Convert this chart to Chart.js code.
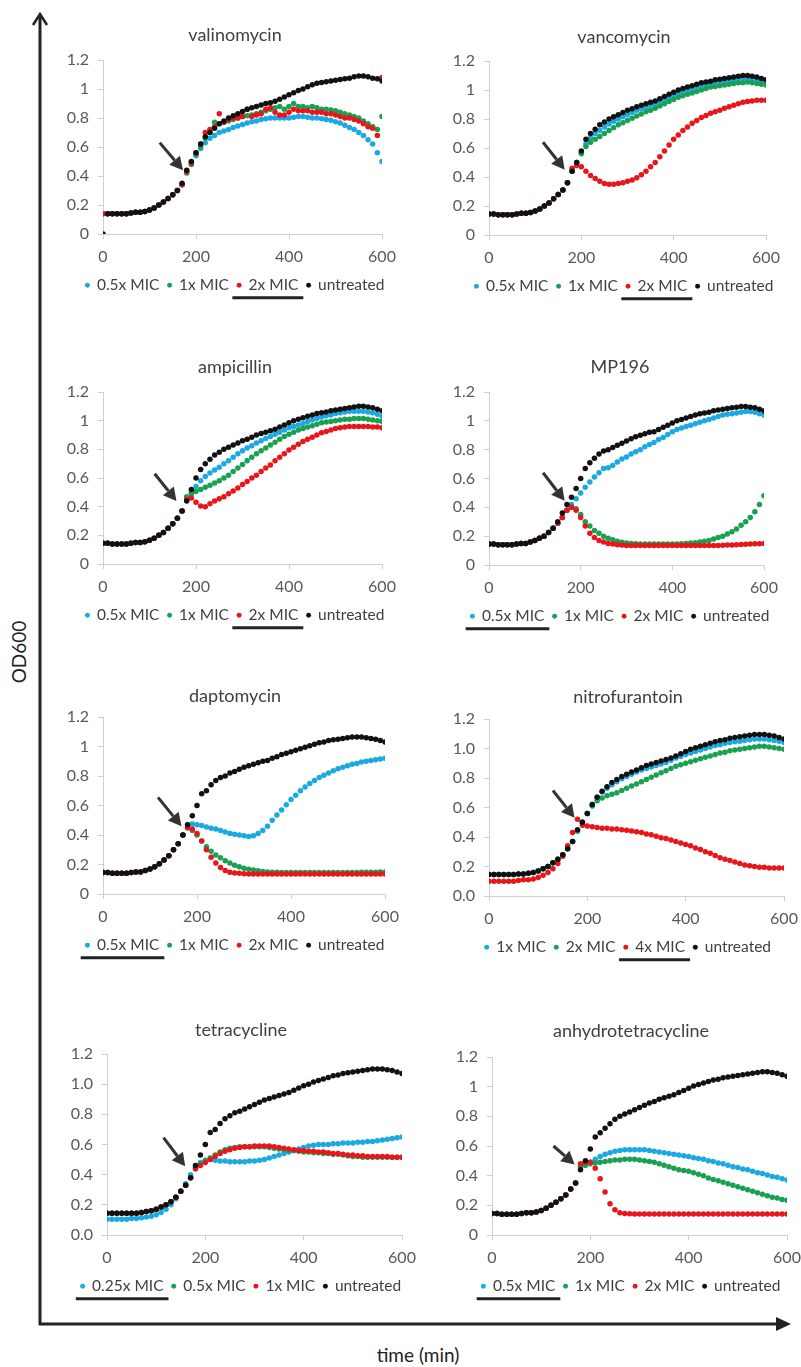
<!DOCTYPE html>
<html>
<head>
<meta charset="utf-8">
<script src="https://cdn.jsdelivr.net/npm/chart.js@4.4.1/dist/chart.umd.min.js"></script>
<style>
html, body { margin: 0; padding: 0; background: #fff; overflow: hidden; }
#page { position: relative; width: 801px; height: 1367px; overflow: hidden; }
#page canvas { position: absolute; }
.axlabel { position: absolute; font-family: Lato, "Open Sans", sans-serif; color: #222; font-size: 19px; white-space: nowrap; }
</style>
</head>
<body>
<div id="page">
  <svg width="801" height="1367" style="position:absolute;left:0;top:0">
    <line x1="40" y1="1325" x2="40" y2="15" stroke="#222" stroke-width="3"/>
    <polyline points="33,25 40,14 47,25" fill="none" stroke="#222" stroke-width="2.5"/>
    <line x1="39" y1="1324" x2="778" y2="1324" stroke="#222" stroke-width="3"/>
    <polygon points="776,1317 791,1324 776,1331" fill="#222"/>
  </svg>
  <div class="axlabel" id="ylab" style="left:18px;top:652px;transform:translate(-50%,-50%) rotate(-90deg)">OD600</div>
  <div class="axlabel" id="xlab" style="left:418px;top:1354px;transform:translate(-50%,-50%)">time (min)</div>
</div>
<script>
// sampling times (min)
const times = [0,10,20,30,40,50,60,70,80,90,100,110,120,130,140,150,160,170,
  180,190,200,210,220,230,240,250,260,270,280,290,300,310,320,330,340,350,360,370,
  380,390,400,410,420,430,440,450,460,470,480,490,500,510,520,530,540,550,560,570,
  580,590,600];

const yLabelsGeneral = ['0', '0.2', '0.4', '0.6', '0.8', '1', '1.2'];
const yLabelsFixed = ['0.0', '0.2', '0.4', '0.6', '0.8', '1.0', '1.2'];
const xLabels = ['0', '200', '400', '600'];

const micLabels = ['0.5x MIC', '1x MIC', '2x MIC', 'untreated'];
const nitroLabels = ['1x MIC', '2x MIC', '4x MIC', 'untreated'];
const tetraLabels = ['0.25x MIC', '0.5x MIC', '1x MIC', 'untreated'];

// ---- valinomycin
const valinoPre = [0.14,0.14,0.14,0.14,0.14,0.14,0.145,0.15,0.15,0.155,0.165,0.18,0.2,0.22,0.245,0.27,0.3,0.34];
const valinoPreUntreated = [0,0.14,0.14,0.14,0.14,0.14,0.145,0.15,0.15,0.155,0.165,0.18,0.2,0.22,0.245,0.27,0.3,0.35];
const valinoBlue = valinoPre.concat([0.43,0.49,0.54,0.59,0.63,0.66,0.68,0.70,0.71,0.72,
  0.735,0.745,0.755,0.765,0.775,0.78,0.79,0.795,0.80,0.80,
  0.80,0.80,0.80,0.805,0.81,0.81,0.805,0.80,0.80,0.795,
  0.79,0.785,0.775,0.765,0.75,0.735,0.72,0.70,0.68,0.65,
  0.62,0.56,0.50]);
const valinoGreen = valinoPre.concat([0.42,0.48,0.55,0.60,0.66,0.70,0.77,0.76,0.77,0.78,
  0.79,0.80,0.81,0.815,0.82,0.83,0.84,0.85,0.86,0.87,
  0.88,0.86,0.88,0.90,0.88,0.88,0.87,0.88,0.87,0.86,
  0.86,0.855,0.85,0.84,0.83,0.82,0.81,0.80,0.78,0.76,
  0.74,0.72,0.81]);
const valinoRed = valinoPre.concat([0.43,0.49,0.56,0.62,0.70,0.72,0.74,0.83,0.77,0.79,
  0.80,0.80,0.81,0.86,0.81,0.82,0.83,0.86,0.87,0.84,
  0.82,0.82,0.84,0.86,0.85,0.85,0.85,0.84,0.84,0.84,
  0.83,0.83,0.82,0.81,0.80,0.80,0.79,0.78,0.76,0.74,
  0.73,0.68,1.08]);
const valinoBlack = valinoPreUntreated.concat([0.44,0.50,0.56,0.62,0.67,0.70,0.73,0.76,0.78,0.80,
  0.815,0.83,0.845,0.86,0.87,0.88,0.89,0.90,0.905,0.915,
  0.93,0.945,0.96,0.975,0.99,1.0,1.015,1.03,1.04,1.045,
  1.05,1.055,1.06,1.065,1.07,1.075,1.085,1.09,1.09,1.085,
  1.075,1.07,1.055]);

// ---- vancomycin
const vancoPre = [0.145,0.145,0.14,0.14,0.14,0.14,0.145,0.15,0.15,0.155,0.165,0.18,0.2,0.22,0.25,0.28,0.31,0.36];
const vancoBlue = vancoPre.concat([0.44,0.50,0.57,0.63,0.67,0.70,0.72,0.745,0.765,0.785,
  0.80,0.815,0.83,0.845,0.86,0.87,0.88,0.895,0.905,0.92,
  0.935,0.95,0.965,0.98,0.99,1.0,1.01,1.02,1.03,1.04,
  1.045,1.05,1.055,1.06,1.065,1.07,1.075,1.08,1.08,1.075,
  1.07,1.06,1.05]);
const vancoGreen = vancoPre.concat([0.44,0.50,0.56,0.61,0.64,0.66,0.68,0.70,0.72,0.74,
  0.76,0.775,0.79,0.805,0.82,0.835,0.85,0.86,0.875,0.89,
  0.905,0.92,0.935,0.95,0.96,0.97,0.98,0.99,1.0,1.01,
  1.02,1.025,1.03,1.035,1.04,1.045,1.05,1.05,1.055,1.05,
  1.045,1.04,1.035]);
const vancoRed = vancoPre.concat([0.46,0.48,0.47,0.44,0.41,0.39,0.37,0.355,0.35,0.35,
  0.355,0.36,0.37,0.38,0.395,0.415,0.44,0.47,0.50,0.54,
  0.58,0.62,0.66,0.69,0.72,0.745,0.77,0.79,0.81,0.825,
  0.84,0.85,0.86,0.875,0.885,0.895,0.905,0.915,0.92,0.925,
  0.93,0.93,0.93]);
const vancoBlack = vancoPre.concat([0.44,0.50,0.58,0.66,0.70,0.73,0.76,0.78,0.80,0.815,
  0.83,0.845,0.86,0.87,0.885,0.895,0.905,0.915,0.925,0.94,
  0.955,0.97,0.985,1.0,1.01,1.02,1.03,1.04,1.05,1.055,
  1.06,1.07,1.075,1.08,1.085,1.09,1.095,1.1,1.1,1.095,
  1.09,1.08,1.07]);

// ---- ampicillin
const ampiPre = [0.145,0.145,0.14,0.14,0.14,0.14,0.145,0.15,0.15,0.155,0.165,0.18,0.2,0.22,0.25,0.28,0.32,0.37];
const ampiBlue = ampiPre.concat([0.46,0.50,0.54,0.58,0.61,0.635,0.655,0.675,0.70,0.72,
  0.745,0.77,0.79,0.81,0.825,0.845,0.86,0.875,0.89,0.905,
  0.92,0.935,0.95,0.96,0.97,0.98,0.995,1.005,1.015,1.025,
  1.035,1.04,1.05,1.055,1.06,1.065,1.065,1.065,1.065,1.06,
  1.055,1.045,1.03]);
const ampiGreen = ampiPre.concat([0.47,0.49,0.505,0.52,0.535,0.55,0.565,0.58,0.60,0.62,
  0.645,0.67,0.695,0.72,0.745,0.77,0.79,0.81,0.83,0.85,
  0.87,0.89,0.905,0.92,0.935,0.945,0.955,0.965,0.975,0.985,
  0.99,0.995,1.0,1.005,1.01,1.01,1.015,1.015,1.015,1.01,
  1.005,1.0,0.995]);
const ampiRed = ampiPre.concat([0.45,0.46,0.43,0.405,0.40,0.42,0.44,0.455,0.47,0.49,
  0.51,0.53,0.555,0.575,0.60,0.62,0.645,0.67,0.69,0.72,
  0.745,0.77,0.795,0.815,0.835,0.855,0.87,0.885,0.90,0.915,
  0.925,0.935,0.945,0.95,0.955,0.96,0.96,0.96,0.96,0.96,
  0.955,0.955,0.95]);
const ampiBlack = ampiPre.concat([0.44,0.52,0.60,0.66,0.70,0.73,0.76,0.78,0.80,0.815,
  0.83,0.845,0.86,0.87,0.885,0.90,0.91,0.92,0.93,0.94,
  0.955,0.97,0.985,1.0,1.01,1.02,1.03,1.04,1.05,1.055,
  1.06,1.07,1.075,1.08,1.085,1.09,1.095,1.1,1.1,1.095,
  1.09,1.08,1.07]);

// ---- MP196
const mpPre = [0.145,0.145,0.14,0.14,0.14,0.14,0.145,0.15,0.15,0.16,0.17,0.185,0.2,0.225,0.255,0.29,0.33,0.38];
const mpPreUntreated = [0.145,0.145,0.14,0.14,0.14,0.14,0.145,0.15,0.15,0.16,0.17,0.185,0.2,0.225,0.255,0.30,0.36,0.42];
const mpBlue = mpPre.concat([0.42,0.46,0.50,0.54,0.575,0.61,0.64,0.67,0.675,0.69,
  0.715,0.735,0.75,0.77,0.785,0.80,0.82,0.835,0.85,0.87,
  0.885,0.905,0.925,0.94,0.95,0.96,0.97,0.98,0.99,1.0,
  1.01,1.02,1.03,1.04,1.045,1.05,1.055,1.06,1.065,1.065,
  1.06,1.05,1.04]);
const mpGreen = mpPre.concat([0.40,0.39,0.35,0.30,0.27,0.24,0.22,0.20,0.185,0.175,
  0.165,0.158,0.152,0.15,0.148,0.146,0.145,0.145,0.145,0.145,
  0.145,0.145,0.145,0.145,0.147,0.15,0.152,0.155,0.16,0.165,
  0.17,0.18,0.19,0.20,0.215,0.23,0.25,0.275,0.30,0.33,
  0.37,0.42,0.48]);
const mpRed = mpPre.concat([0.40,0.38,0.33,0.27,0.22,0.19,0.17,0.16,0.15,0.145,
  0.14,0.138,0.136,0.135,0.135,0.135,0.135,0.135,0.135,0.135,
  0.135,0.135,0.135,0.135,0.135,0.135,0.135,0.135,0.135,0.135,
  0.135,0.135,0.136,0.137,0.138,0.139,0.14,0.142,0.144,0.145,
  0.147,0.148,0.15]);
const mpBlack = mpPreUntreated.concat([0.47,0.53,0.60,0.67,0.71,0.74,0.77,0.79,0.80,0.815,
  0.83,0.845,0.86,0.875,0.89,0.90,0.91,0.92,0.925,0.94,
  0.955,0.97,0.985,1.0,1.01,1.02,1.03,1.04,1.05,1.055,
  1.06,1.07,1.075,1.08,1.085,1.09,1.095,1.1,1.1,1.095,
  1.09,1.08,1.07]);

// ---- daptomycin
const daptoPre = [0.145,0.145,0.14,0.14,0.14,0.14,0.145,0.15,0.15,0.16,0.17,0.185,0.205,0.23,0.26,0.3,0.34,0.4];
const daptoBlue = daptoPre.concat([0.47,0.475,0.47,0.465,0.455,0.445,0.44,0.43,0.42,0.41,
  0.405,0.40,0.395,0.39,0.395,0.41,0.43,0.46,0.50,0.535,
  0.57,0.605,0.64,0.67,0.70,0.725,0.75,0.77,0.79,0.805,
  0.82,0.835,0.85,0.86,0.87,0.88,0.885,0.895,0.90,0.905,
  0.91,0.915,0.92]);
const daptoGreen = daptoPre.concat([0.45,0.43,0.40,0.36,0.32,0.29,0.265,0.245,0.225,0.21,
  0.195,0.185,0.175,0.168,0.162,0.157,0.153,0.15,0.148,0.147,
  0.146,0.145,0.145,0.145,0.145,0.145,0.145,0.145,0.145,0.145,
  0.145,0.145,0.145,0.145,0.145,0.146,0.146,0.147,0.147,0.148,
  0.148,0.149,0.15]);
const daptoRed = daptoPre.concat([0.45,0.44,0.41,0.36,0.30,0.25,0.21,0.18,0.16,0.148,
  0.142,0.14,0.137,0.135,0.135,0.135,0.135,0.135,0.135,0.135,
  0.135,0.135,0.135,0.135,0.135,0.135,0.135,0.135,0.135,0.135,
  0.135,0.135,0.135,0.135,0.135,0.135,0.135,0.135,0.135,0.135,
  0.135,0.135,0.135]);
const daptoBlack = daptoPre.concat([0.47,0.53,0.60,0.68,0.70,0.74,0.77,0.79,0.80,0.82,
  0.83,0.845,0.86,0.87,0.88,0.89,0.90,0.905,0.92,0.93,
  0.945,0.955,0.965,0.975,0.985,0.995,1.005,1.015,1.025,1.03,
  1.04,1.045,1.05,1.055,1.06,1.065,1.065,1.065,1.06,1.055,
  1.05,1.04,1.03]);

// ---- nitrofurantoin
const nitroPre = [0.145,0.145,0.145,0.145,0.145,0.145,0.15,0.15,0.155,0.16,0.17,0.185,0.2,0.225,0.25,0.28,0.32,0.37];
const nitroPreRed = [0.1,0.1,0.1,0.1,0.1,0.1,0.105,0.11,0.11,0.115,0.125,0.14,0.16,0.185,0.22,0.27,0.34,0.43];
const nitroBlue = nitroPre.concat([0.44,0.50,0.56,0.62,0.67,0.705,0.73,0.755,0.775,0.795,
  0.81,0.825,0.84,0.855,0.865,0.875,0.885,0.895,0.905,0.92,
  0.935,0.945,0.96,0.97,0.98,0.99,1.0,1.01,1.02,1.025,
  1.035,1.04,1.045,1.05,1.055,1.06,1.065,1.065,1.065,1.06,
  1.055,1.05,1.04]);
const nitroGreen = nitroPre.concat([0.44,0.50,0.56,0.61,0.645,0.665,0.68,0.69,0.70,0.715,
  0.73,0.745,0.76,0.775,0.79,0.805,0.82,0.835,0.85,0.865,
  0.88,0.89,0.90,0.91,0.92,0.93,0.94,0.95,0.96,0.97,
  0.975,0.985,0.99,0.995,1.0,1.005,1.01,1.015,1.015,1.01,
  1.005,1.0,0.995]);
const nitroRed = nitroPreRed.concat([0.52,0.48,0.475,0.47,0.465,0.46,0.46,0.455,0.455,0.45,
  0.445,0.44,0.435,0.43,0.42,0.415,0.405,0.395,0.39,0.38,
  0.37,0.36,0.35,0.34,0.325,0.315,0.30,0.29,0.275,0.26,
  0.25,0.24,0.23,0.22,0.21,0.205,0.20,0.195,0.195,0.19,
  0.19,0.19,0.19]);
const nitroBlack = nitroPre.concat([0.45,0.50,0.56,0.62,0.67,0.71,0.74,0.77,0.79,0.81,
  0.825,0.84,0.855,0.87,0.885,0.895,0.905,0.915,0.925,0.935,
  0.95,0.965,0.98,0.995,1.005,1.015,1.025,1.035,1.045,1.055,
  1.06,1.07,1.075,1.08,1.085,1.09,1.095,1.095,1.095,1.09,
  1.085,1.075,1.065]);

// ---- tetracycline
const tetraPre = [0.145,0.145,0.145,0.145,0.145,0.145,0.145,0.15,0.155,0.16,0.17,0.185,0.2,0.22,0.25,0.29,0.33,0.38];
const tetraPreBlue = [0.105,0.105,0.105,0.105,0.105,0.11,0.11,0.115,0.12,0.125,0.135,0.15,0.17,0.2,0.24,0.29,0.34,0.4];
const tetraBlue = tetraPreBlue.concat([0.44,0.48,0.495,0.50,0.495,0.49,0.49,0.485,0.485,0.485,
  0.485,0.49,0.49,0.495,0.50,0.51,0.52,0.53,0.54,0.55,
  0.56,0.57,0.58,0.59,0.595,0.60,0.60,0.60,0.605,0.605,
  0.61,0.61,0.61,0.615,0.615,0.62,0.62,0.625,0.63,0.635,
  0.64,0.645,0.65]);
const tetraGreen = tetraPre.concat([0.45,0.47,0.49,0.51,0.53,0.55,0.565,0.575,0.58,0.585,
  0.585,0.585,0.585,0.585,0.585,0.58,0.575,0.57,0.565,0.56,
  0.56,0.555,0.55,0.55,0.545,0.545,0.54,0.54,0.535,0.535,
  0.53,0.525,0.52,0.52,0.515,0.515,0.515,0.515,0.515,0.515,
  0.515,0.515,0.515]);
const tetraRed = tetraPre.concat([0.44,0.46,0.48,0.50,0.52,0.54,0.555,0.565,0.575,0.58,
  0.585,0.585,0.59,0.59,0.59,0.59,0.585,0.58,0.575,0.57,
  0.565,0.56,0.56,0.555,0.555,0.55,0.55,0.545,0.54,0.54,
  0.535,0.53,0.53,0.525,0.525,0.52,0.52,0.52,0.52,0.52,
  0.515,0.515,0.515]);
const tetraBlack = tetraPre.concat([0.46,0.53,0.60,0.68,0.70,0.74,0.77,0.79,0.81,0.82,
  0.835,0.85,0.865,0.88,0.895,0.905,0.915,0.925,0.935,0.945,
  0.96,0.975,0.99,1.0,1.015,1.025,1.035,1.045,1.055,1.06,
  1.07,1.075,1.08,1.085,1.09,1.095,1.1,1.1,1.1,1.095,
  1.09,1.08,1.07]);

// ---- anhydrotetracycline
const ahtPre = [0.145,0.145,0.14,0.14,0.14,0.14,0.145,0.15,0.15,0.155,0.165,0.18,0.2,0.22,0.245,0.27,0.31,0.35];
const ahtBlue = ahtPre.concat([0.46,0.47,0.49,0.51,0.53,0.545,0.555,0.565,0.57,0.575,
  0.575,0.575,0.575,0.575,0.57,0.565,0.56,0.555,0.55,0.545,
  0.54,0.535,0.53,0.52,0.515,0.51,0.50,0.495,0.485,0.48,
  0.47,0.46,0.455,0.445,0.44,0.43,0.42,0.415,0.405,0.395,
  0.39,0.38,0.37]);
const ahtGreen = ahtPre.concat([0.46,0.47,0.48,0.485,0.49,0.495,0.50,0.505,0.505,0.51,
  0.51,0.51,0.505,0.50,0.495,0.49,0.48,0.47,0.46,0.45,
  0.44,0.435,0.43,0.42,0.41,0.40,0.385,0.375,0.365,0.355,
  0.345,0.335,0.325,0.315,0.305,0.295,0.285,0.275,0.265,0.255,
  0.25,0.24,0.235]);
const ahtRed = ahtPre.concat([0.48,0.49,0.49,0.45,0.38,0.29,0.21,0.17,0.15,0.145,
  0.143,0.142,0.142,0.142,0.142,0.142,0.142,0.142,0.142,0.142,
  0.142,0.142,0.142,0.142,0.142,0.142,0.142,0.142,0.142,0.142,
  0.142,0.142,0.142,0.142,0.142,0.142,0.142,0.142,0.142,0.142,
  0.142,0.142,0.142]);
const ahtBlack = ahtPre.concat([0.44,0.50,0.58,0.66,0.69,0.72,0.75,0.78,0.80,0.815,
  0.83,0.845,0.86,0.875,0.89,0.90,0.915,0.925,0.935,0.945,
  0.96,0.975,0.99,1.005,1.015,1.025,1.035,1.045,1.05,1.06,
  1.065,1.07,1.075,1.08,1.085,1.09,1.095,1.1,1.1,1.095,
  1.09,1.08,1.07]);

const COLORS = ['#1ba9e2', '#18a053', '#e8161b', '#111111'];
const FONT = 'Lato, "Open Sans", sans-serif';

// panel content
const panels = [
  { title: 'valinomycin', legend: micLabels, series: [valinoBlue, valinoGreen, valinoRed, valinoBlack], underline: 2, yLabels: yLabelsGeneral, arrow: [122, 0.63, 172, 0.44] },
  { title: 'vancomycin', legend: micLabels, series: [vancoBlue, vancoGreen, vancoRed, vancoBlack], underline: 2, yLabels: yLabelsGeneral, arrow: [117, 0.64, 164, 0.45] },
  { title: 'ampicillin', legend: micLabels, series: [ampiBlue, ampiGreen, ampiRed, ampiBlack], underline: 2, yLabels: yLabelsGeneral, arrow: [111, 0.63, 158, 0.44] },
  { title: 'MP196', legend: micLabels, series: [mpBlue, mpGreen, mpRed, mpBlack], underline: 0, yLabels: yLabelsGeneral, arrow: [118, 0.64, 165, 0.445] },
  { title: 'daptomycin', legend: micLabels, series: [daptoBlue, daptoGreen, daptoRed, daptoBlack], underline: 0, yLabels: yLabelsGeneral, arrow: [117, 0.655, 167, 0.46] },
  { title: 'nitrofurantoin', legend: nitroLabels, series: [nitroBlue, nitroGreen, nitroRed, nitroBlack], underline: 2, yLabels: yLabelsFixed, arrow: [130, 0.715, 174, 0.53] },
  { title: 'tetracycline', legend: tetraLabels, series: [tetraBlue, tetraGreen, tetraRed, tetraBlack], underline: 0, yLabels: yLabelsFixed, arrow: [115, 0.645, 159, 0.455] },
  { title: 'anhydrotetracycline', legend: micLabels, series: [ahtBlue, ahtGreen, ahtRed, ahtBlack], underline: 0, yLabels: yLabelsGeneral, arrow: [125, 0.6, 168, 0.475] }
];

// where each plot area sits on the page (l,r,t,b), title centre y, legend centre x
const boxes = [
  { l: 103, r: 382, t: 60, b: 232, tc: 35, lc: 235 },
  { l: 489, r: 766, t: 61, b: 233, tc: 37, lc: 624 },
  { l: 103, r: 382, t: 392, b: 562, tc: 367, lc: 235 },
  { l: 489, r: 764, t: 392, b: 563, tc: 367, lc: 620 },
  { l: 103, r: 385, t: 717, b: 892, tc: 696, lc: 235 },
  { l: 489, r: 784, t: 719, b: 894, tc: 697, lc: 628 },
  { l: 107, r: 402, t: 1054, b: 1233, tc: 1030, lc: 241 },
  { l: 492, r: 787, t: 1057, b: 1233, tc: 1031, lc: 631 }
];

// arrow to the treatment point + bar under the highlighted legend entry
const decorPlugin = {
  id: 'decor',
  afterDraw(chart, args, opts) {
    const ctx = chart.ctx;
    const sx = chart.scales.x, sy = chart.scales.y;
    const a = opts.arrow;
    const x1 = sx.getPixelForValue(a[0]), y1 = sy.getPixelForValue(a[1]);
    const x2 = sx.getPixelForValue(a[2]), y2 = sy.getPixelForValue(a[3]);
    const ang = Math.atan2(y2 - y1, x2 - x1);
    const hl = 13, hw = 7;
    const bx = x2 - hl * Math.cos(ang), by = y2 - hl * Math.sin(ang);
    ctx.save();
    ctx.strokeStyle = '#333';
    ctx.fillStyle = '#333';
    ctx.lineWidth = 3;
    ctx.beginPath();
    ctx.moveTo(x1, y1);
    ctx.lineTo(bx, by);
    ctx.stroke();
    ctx.beginPath();
    ctx.moveTo(x2, y2);
    ctx.lineTo(bx + hw * Math.sin(ang), by - hw * Math.cos(ang));
    ctx.lineTo(bx - hw * Math.sin(ang), by + hw * Math.cos(ang));
    ctx.closePath();
    ctx.fill();

    const hb = chart.legend.legendHitBoxes[opts.underline];
    if (hb) {
      ctx.fillStyle = '#222';
      ctx.fillRect(hb.left - 5, hb.top + hb.height / 2 + 11, hb.width + 10, 3);
    }
    ctx.restore();
  }
};

const page = document.getElementById('page');
const titleSize = 18, titleLH = titleSize * 1.2, titleTop = 4;
const legendSize = 15.5, legendPad = 8.5;
const xAxisH = 35, rightPad = 40;

panels.forEach((p, i) => {
  const g = boxes[i];
  const W = Math.round(2 * (g.r - g.lc + rightPad));
  const cx = Math.round(g.lc - W / 2);
  const cy = Math.round(g.tc - titleTop - titleLH / 2);
  const yw = g.l - cx;
  const rw = cx + W - g.r;
  const tb = g.t - cy - titleTop - titleLH;
  const H = Math.ceil(g.b - cy + xAxisH + legendSize + legendPad + 10 + 2);

  const canvas = document.createElement('canvas');
  canvas.width = W;
  canvas.height = H;
  canvas.style.left = cx + 'px';
  canvas.style.top = cy + 'px';
  canvas.style.width = W + 'px';
  canvas.style.height = H + 'px';
  page.appendChild(canvas);

  const datasets = p.series.map((vals, j) => ({
    label: p.legend[j],
    data: times.map((t, k) => ({ x: t, y: vals[k] })),
    backgroundColor: COLORS[j],
    borderColor: COLORS[j],
    pointRadius: 2.75,
    pointBorderWidth: 0,
    pointHoverRadius: 2.75,
    showLine: false,
    order: 3 - j
  }));

  new Chart(canvas.getContext('2d'), {
    type: 'scatter',
    data: { datasets: datasets },
    options: {
      responsive: false,
      animation: false,
      devicePixelRatio: 1,
      layout: { padding: 0 },
      plugins: {
        title: {
          display: true,
          text: p.title,
          color: '#404040',
          font: { family: FONT, size: titleSize, weight: 'normal' },
          padding: { top: titleTop, bottom: tb }
        },
        legend: {
          position: 'bottom',
          labels: {
            usePointStyle: true,
            pointStyle: 'circle',
            boxWidth: 3.5,
            boxHeight: 3.5,
            padding: legendPad,
            color: '#404040',
            font: { family: FONT, size: legendSize },
            sort: (a, b) => a.datasetIndex - b.datasetIndex
          }
        },
        tooltip: { enabled: false },
        decor: { arrow: p.arrow, underline: p.underline }
      },
      scales: {
        x: {
          type: 'linear',
          min: 0,
          max: 600,
          afterFit: s => { s.height = xAxisH; },
          grid: { drawOnChartArea: false, tickLength: 5, color: '#cfcfcf' },
          border: { color: '#cfcfcf' },
          ticks: {
            stepSize: 200,
            maxRotation: 0,
            padding: 8,
            color: '#595959',
            font: { family: FONT, size: 16 },
            callback: v => xLabels[Math.round(v / 200)]
          }
        },
        y: {
          min: 0,
          max: 1.2,
          afterFit: s => { s.width = yw; },
          grid: { drawOnChartArea: false, tickLength: 5, color: '#cfcfcf' },
          border: { color: '#cfcfcf' },
          ticks: {
            stepSize: 0.2,
            padding: 9,
            color: '#595959',
            font: { family: FONT, size: 16 },
            callback: v => p.yLabels[Math.round(v / 0.2)]
          }
        },
        yr: {
          type: 'linear',
          position: 'right',
          display: true,
          afterFit: s => { s.width = rw; },
          grid: { display: false, drawTicks: false },
          border: { display: false },
          ticks: { display: false }
        }
      }
    },
    plugins: [decorPlugin]
  });
});
</script>
</body>
</html>
